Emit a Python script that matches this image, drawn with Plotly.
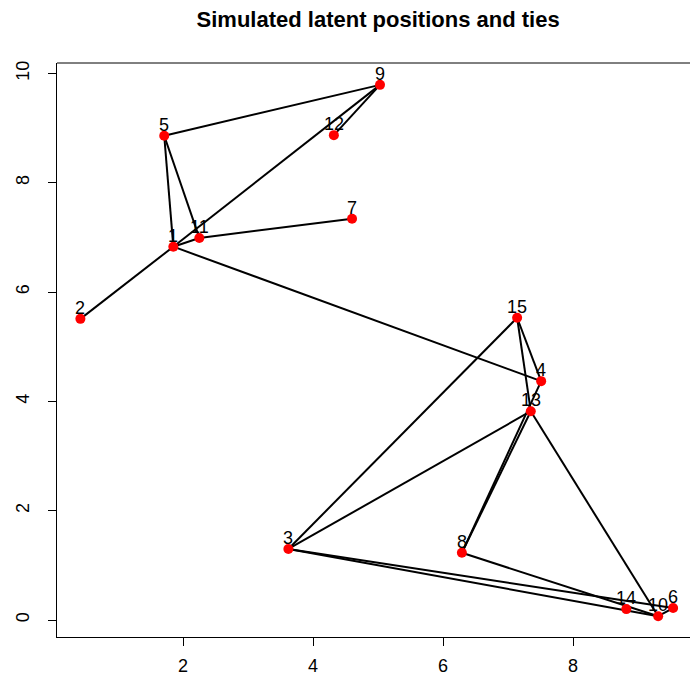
import plotly.graph_objects as go

# Latent positions of the 15 actors
node_ids = [str(i) for i in range(1, 16)]
pos_x = [1.85, 0.42, 3.62, 7.51, 1.71, 9.54, 4.60, 6.29, 5.03, 9.31, 2.25, 4.32, 7.35, 8.82, 7.14]
pos_y = [6.83, 5.51, 1.30, 4.37, 8.86, 0.22, 7.34, 1.23, 9.79, 0.07, 6.99, 8.87, 3.82, 0.20, 5.53]

# Observed ties (sender, receiver), 1-based actor ids
tie_from = [1, 1, 1, 1, 1, 5, 5, 9, 11, 15, 15, 15, 4, 13, 13, 13, 3, 3, 8, 10]
tie_to = [2, 4, 5, 9, 11, 9, 11, 12, 7, 3, 4, 13, 8, 8, 3, 10, 6, 10, 10, 6]

x_ticks = [2, 4, 6, 8]
y_ticks = [0, 2, 4, 6, 8, 10]

FONT = "Liberation Sans, Arial, Helvetica, sans-serif"

edge_x, edge_y = [], []
for a, b in zip(tie_from, tie_to):
    edge_x += [pos_x[a - 1], pos_x[b - 1], None]
    edge_y += [pos_y[a - 1], pos_y[b - 1], None]

fig = go.Figure()
fig.add_trace(go.Scatter(
    x=edge_x, y=edge_y, mode="lines",
    line=dict(color="black", width=2),
    hoverinfo="skip", showlegend=False,
))
fig.add_trace(go.Scatter(
    x=pos_x, y=pos_y, mode="markers",
    marker=dict(color="#ff0000", size=10, line=dict(width=0)),
    showlegend=False,
))

# Actor labels sit just above each point
annotations = [
    dict(x=x, y=y, text=t, showarrow=False, xanchor="center", yanchor="bottom",
         yshift=-1, font=dict(family=FONT, size=18, color="black"))
    for x, y, t in zip(pos_x, pos_y, node_ids)
]

fig.update_layout(
    width=690, height=681,
    margin=dict(l=57, r=0, t=63, b=44),
    paper_bgcolor="white", plot_bgcolor="white",
    font=dict(family=FONT, size=18, color="black"),
    title=dict(
        text="<b>Simulated latent positions and ties</b>",
        x=0.548, xanchor="center", y=0.971, yanchor="middle",
        xref="container", yref="container",
        font=dict(size=22, color="black"),
    ),
    xaxis=dict(
        range=[0.06, 9.80], tickvals=x_ticks, showgrid=False, zeroline=False,
        showline=True, linecolor="black", linewidth=1,
        ticks="outside", ticklen=8, tickcolor="black", tickwidth=1,
        tickfont=dict(size=18), ticklabelstandoff=4,
    ),
    yaxis=dict(
        range=[-0.31, 10.19], tickvals=y_ticks, showgrid=False, zeroline=False,
        showline=True, linecolor="black", linewidth=1,
        ticks="outside", ticklen=8, tickcolor="black", tickwidth=1,
        tickangle=-90, tickfont=dict(size=18), ticklabelstandoff=12,
    ),
    annotations=annotations,
    shapes=[dict(type="line", xref="paper", yref="paper", x0=0, x1=1, y0=1, y1=1,
                 line=dict(color="black", width=1))],
)

fig.write_html("out.html")
